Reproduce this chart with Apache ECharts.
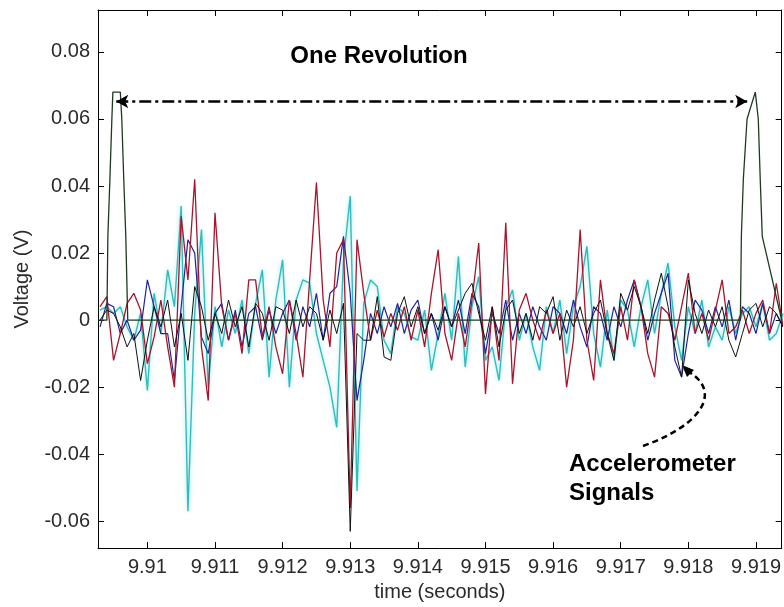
<!DOCTYPE html>
<html>
<head>
<meta charset="utf-8">
<title>Accelerometer signals</title>
<script src="https://cdn.jsdelivr.net/npm/echarts@6.0.0/dist/echarts.min.js"></script>
<style>
  html, body { margin: 0; padding: 0; background: #fff; }
  #chart { width: 784px; height: 607px; }
</style>
</head>
<body>
<div id="chart"></div>
<script>
// sample clock of the accelerometer traces
var t0 = 9.9093;
var dt = 0.0001;

// accelerometer traces (V)
var redTrace = [0.004, 0.007, -0.012, -0.004, 0.005, 0.008, 0.003, -0.013, -0.005, 0.006,
  -0.008, -0.020, 0.031, 0.012, 0.042, -0.008, -0.024, 0.032, 0.004, -0.006,
  0.002, -0.010, 0.012, 0.012, -0.005, 0.004, -0.008, -0.016, 0.006, -0.004,
  -0.017, 0.012, 0.041, 0.006, -0.008, 0.020, 0.024, -0.056, 0.024, 0.008,
  -0.006, 0.003, -0.005, 0.002, -0.003, 0.004, -0.006, 0.003, -0.008, 0.008,
  0.021, -0.004, -0.012, 0.002, -0.008, 0.006, 0.023, -0.022, 0.004, -0.012,
  0.029, -0.019, 0.003, 0.008, 0.000, -0.006, 0.003, -0.004, 0.002, -0.020,
  -0.006, 0.027, -0.006, -0.018, 0.012, -0.004, -0.010, 0.004, -0.006, 0.012,
  0.004, -0.010, -0.017, 0.004, 0.002, -0.006, 0.004, 0.014, -0.004, 0.002,
  -0.006, 0.003, 0.012, -0.004, -0.002, 0.003, -0.004, 0.002, 0.006, -0.004,
  0.011, -0.002];

var cyanTrace = [0.003, 0.004, 0.002, 0.004, -0.002, -0.006, 0.002, -0.021, 0.008, -0.004,
  0.015, 0.004, 0.034, -0.057, 0.002, 0.027, -0.020, 0.004, -0.008, 0.003,
  -0.004, 0.006, -0.010, 0.005, 0.015, -0.017, 0.006, 0.018, -0.020, 0.006,
  0.012, 0.011, -0.004, -0.012, -0.020, -0.032, 0.018, 0.037, -0.051, 0.005,
  0.012, 0.010, -0.006, -0.010, 0.004, 0.002, -0.005, -0.006, 0.003, -0.015,
  -0.004, 0.008, -0.006, 0.019, -0.014, 0.004, 0.013, -0.012, -0.008, -0.018,
  0.004, 0.009, -0.006, 0.002, -0.008, -0.015, 0.004, -0.004, 0.006, -0.010,
  0.004, 0.010, 0.022, -0.004, -0.014, 0.003, -0.012, 0.006, 0.003, -0.008,
  0.004, 0.012, -0.004, 0.008, 0.017, -0.002, -0.012, 0.004, -0.004, 0.006,
  -0.008, -0.002, -0.006, 0.004, -0.004, 0.002, 0.004, -0.002, 0.005, -0.006,
  -0.004, 0.002];

var navyTrace = [-0.002, 0.005, 0.004, -0.004, 0.000, -0.006, -0.003, 0.012, 0.004, -0.004,
  -0.004, -0.018, 0.004, 0.024, 0.020, -0.005, -0.010, 0.002, 0.005, -0.006,
  0.003, -0.008, 0.002, 0.004, -0.006, 0.003, -0.004, 0.002, 0.006, -0.006,
  0.004, -0.002, 0.008, -0.006, 0.008, 0.010, 0.025, 0.008, -0.024, -0.012,
  0.002, -0.004, 0.004, -0.002, 0.005, -0.004, 0.003, 0.006, -0.004, 0.002,
  -0.006, 0.004, -0.002, 0.006, -0.004, 0.008, 0.004, -0.010, 0.002, -0.004,
  0.006, -0.006, 0.002, -0.004, 0.004, -0.002, -0.006, 0.004, 0.002, -0.004,
  0.006, -0.002, -0.008, 0.004, 0.002, -0.006, 0.004, -0.002, 0.006, 0.012,
  0.004, -0.006, 0.002, 0.008, 0.014, -0.012, -0.017, -0.004, 0.006, 0.003,
  -0.004, 0.004, -0.002, 0.006, -0.006, 0.004, 0.002, -0.004, 0.005, -0.004,
  0.002, -0.002];

var blackTrace = [0.000, 0.003, 0.002, -0.002, -0.008, -0.004, -0.018, -0.006, 0.004, -0.002,
  0.006, -0.008, 0.002, -0.012, 0.010, 0.004, -0.006, 0.002, -0.004, 0.006,
  -0.002, 0.004, -0.008, 0.005, 0.002, -0.006, 0.004, 0.003, -0.004, 0.006,
  -0.002, 0.004, 0.002, -0.006, 0.003, -0.004, 0.005, -0.063, -0.004, -0.006,
  -0.006, 0.007, -0.011, -0.012, 0.002, 0.007, -0.002, 0.004, -0.004, 0.002,
  -0.003, 0.004, -0.002, 0.003, 0.008, 0.011, 0.002, -0.006, 0.004, -0.008,
  0.003, 0.006, -0.004, 0.002, -0.006, 0.004, 0.002, 0.007, -0.006, 0.003,
  -0.002, 0.004, -0.004, 0.002, 0.006, -0.004, -0.012, 0.008, 0.003, 0.010,
  0.004, -0.004, 0.006, 0.014, 0.004, -0.008, -0.017, 0.012, 0.002, -0.004,
  0.003, -0.002, 0.004, -0.006, -0.011, -0.004, 0.003, 0.005, -0.002, 0.004,
  0.002, -0.002];

// once-per-revolution tachometer pulse
var tachTimes = [9.90927, 9.909401, 9.909416, 9.909446, 9.909475, 9.90949, 9.9096,
  9.909622, 9.909651, 9.909681, 9.90971,
  9.918769, 9.918784, 9.918813, 9.918868, 9.91899, 9.919015, 9.919034, 9.919063,
  9.919093, 9.91938];
var tachVolts = [0, 0, 0.025, 0.042, 0.060, 0.068, 0.068,
  0.060, 0.042, 0.025, 0,
  0, 0.025, 0.042, 0.060, 0.068, 0.068, 0.060, 0.042,
  0.025, 0];

// revolution arrow ends (s) and level (V)
var revStart = 9.90954;
var revEnd = 9.91887;
var revLevel = 0.0652;

var xTicks = [9.91, 9.911, 9.912, 9.913, 9.914, 9.915, 9.916, 9.917, 9.918, 9.919];
var yTicks = [-0.06, -0.04, -0.02, 0, 0.02, 0.04, 0.06, 0.08];
var xMin = 9.90927, xMax = 9.91938;
var yMin = -0.068, yMax = 0.0925;

function trace(arr) {
  return arr.map(function (v, i) { return [t0 + i * dt, v]; });
}

var tachData = tachTimes.map(function (t, i) { return [t, tachVolts[i]]; });

var font = '"Liberation Sans", Arial, sans-serif';
var axisLine = { show: true, onZero: false, lineStyle: { color: '#000', width: 1 } };

function tickAxis(ticks) {
  return { show: true, inside: true, length: 6, customValues: ticks, lineStyle: { color: '#000' } };
}

var chart = echarts.init(document.getElementById('chart'));

var option = {
  animation: false,
  backgroundColor: '#fff',
  grid: { left: 98, top: 10, right: -1, bottom: 58 },
  xAxis: [{
    type: 'value', min: xMin, max: xMax,
    name: 'time (seconds)', nameLocation: 'middle', nameGap: 30,
    nameTextStyle: { fontFamily: font, fontSize: 20, color: '#2a2a2a' },
    axisLine: axisLine,
    axisTick: tickAxis(xTicks),
    axisLabel: {
      customValues: xTicks, margin: 9, fontFamily: font, fontSize: 20, color: '#2a2a2a',
      formatter: function (v) { return String(+v.toFixed(3)); }
    },
    splitLine: { show: false }
  }, {
    type: 'value', min: xMin, max: xMax, position: 'top',
    axisLine: axisLine,
    axisTick: tickAxis(xTicks),
    axisLabel: { show: false },
    splitLine: { show: false }
  }],
  yAxis: [{
    type: 'value', min: yMin, max: yMax,
    name: 'Voltage (V)', nameLocation: 'middle', nameGap: 66,
    nameTextStyle: { fontFamily: font, fontSize: 20, color: '#2a2a2a' },
    axisLine: axisLine,
    axisTick: tickAxis(yTicks),
    axisLabel: {
      customValues: yTicks, margin: 8, fontFamily: font, fontSize: 20, color: '#2a2a2a',
      formatter: function (v) { return v === 0 ? '0' : String(+v.toFixed(2)); }
    },
    splitLine: { show: false }
  }, {
    type: 'value', min: yMin, max: yMax, position: 'right',
    axisLine: axisLine,
    axisTick: tickAxis(yTicks),
    axisLabel: { show: false },
    splitLine: { show: false }
  }],
  series: [{
    name: 'cyan', type: 'line', data: trace(cyanTrace), showSymbol: false,
    lineStyle: { color: '#2fbcbc', width: 1.4, shadowColor: 'rgba(80,210,210,0.6)', shadowBlur: 4 }
  }, {
    name: 'navy', type: 'line', data: trace(navyTrace), showSymbol: false,
    lineStyle: { color: '#23239a', width: 1.2 }
  }, {
    name: 'red', type: 'line', data: trace(redTrace), showSymbol: false,
    lineStyle: { color: '#a8142c', width: 1.3 }
  }, {
    name: 'black', type: 'line', data: trace(blackTrace), showSymbol: false,
    lineStyle: { color: '#111', width: 1 }
  }, {
    name: 'tach', type: 'line', data: tachData, showSymbol: false,
    lineStyle: { color: '#1e3a1e', width: 1.3 },
    markLine: {
      silent: true, symbol: ['arrow', 'arrow'], symbolSize: [10, 12],
      label: { show: false },
      lineStyle: { color: '#000', width: 2.5, type: [12, 4, 3, 4] },
      data: [[{ coord: [revStart, revLevel] }, { coord: [revEnd, revLevel] }]]
    }
  }],
  graphic: [{
    type: 'text', x: 379, y: 56,
    style: { text: 'One Revolution', font: 'bold 24px ' + font, fill: '#000', align: 'center', verticalAlign: 'middle' }
  }, {
    type: 'text', x: 569, y: 450,
    style: { text: 'Accelerometer\nSignals', font: 'bold 24px ' + font, fill: '#000', lineHeight: 29 }
  }, {
    type: 'bezierCurve',
    shape: { x1: 643, y1: 446, cpx1: 702, cpy1: 425, cpx2: 722, cpy2: 392, x2: 689, y2: 372 },
    style: { stroke: '#000', lineWidth: 2.5, lineDash: [6, 4], fill: null }
  }, {
    type: 'polygon',
    shape: { points: [[682, 365], [694, 370], [687, 377]] },
    style: { fill: '#000' }
  }]
};

chart.setOption(option);
</script>
</body>
</html>
